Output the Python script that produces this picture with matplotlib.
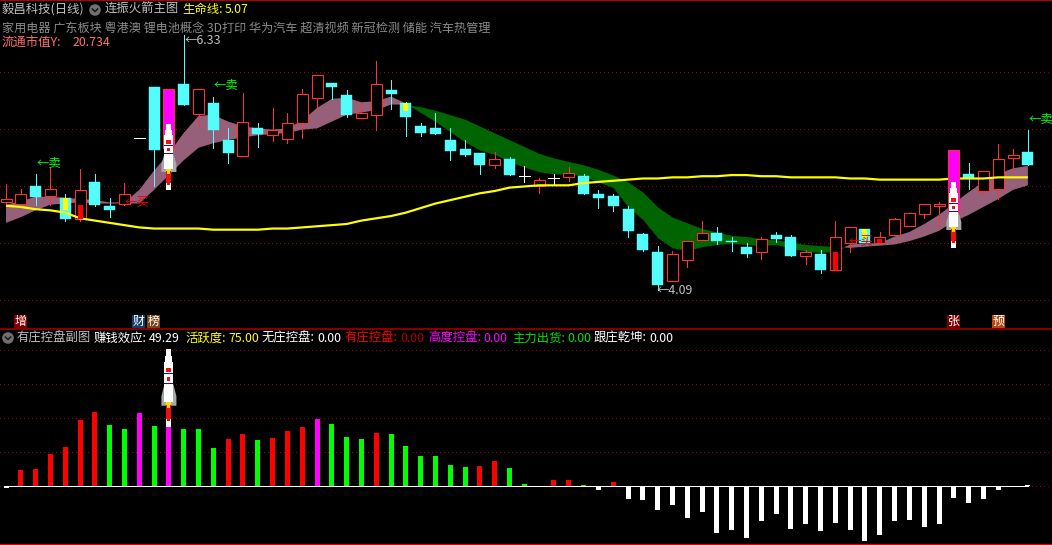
import matplotlib
matplotlib.use('Agg')
import matplotlib.pyplot as plt
from matplotlib.patches import Rectangle, Polygon, Circle

plt.rcParams['font.family'] = ['Noto Sans CJK SC', 'DejaVu Sans']

W, H = 1052, 545
# ---------------- data ----------------
opens = [4.86,4.85,5.00,4.92,4.90,4.71,5.04,4.83,4.85,5.43,5.87,5.34,5.90,5.64,5.73,5.41,5.27,5.51,5.45,5.42,
         5.56,5.78,5.91,5.80,5.60,5.63,5.85,5.73,5.53,5.51,5.41,5.33,5.29,5.19,5.24,5.09,5.00,5.07,5.08,5.09,
         4.93,4.92,4.80,4.58,4.42,4.17,4.35,4.53,4.59,4.52,4.47,4.42,4.57,4.56,4.39,4.41,4.27,4.50,4.63,4.50,
         4.57,4.65,4.76,4.83,4.77,5.11,4.96,4.98,5.25,5.30]
closes = [4.89,4.93,4.91,4.98,4.71,4.97,4.84,4.79,4.93,5.43,5.32,5.86,5.72,5.86,5.50,5.29,5.57,5.46,5.50,5.56,
          5.81,5.98,5.87,5.63,5.65,5.90,5.81,5.61,5.47,5.46,5.31,5.28,5.19,5.24,5.10,5.09,5.06,5.07,5.12,4.93,
          4.90,4.83,4.61,4.44,4.13,4.41,4.52,4.59,4.52,4.51,4.41,4.54,4.54,4.39,4.42,4.27,4.56,4.64,4.50,4.56,
          4.71,4.77,4.85,4.85,5.32,5.07,5.14,5.24,5.28,5.19]
highs = [5.02,4.98,5.11,5.16,4.93,5.15,5.11,4.90,5.03,5.43,5.87,5.86,6.33,5.86,5.79,5.51,5.82,5.56,5.69,5.65,
         5.86,5.98,5.91,5.85,5.73,6.10,5.94,5.74,5.56,5.65,5.51,5.41,5.29,5.30,5.26,5.18,5.07,5.11,5.17,5.11,
         4.97,4.93,4.83,4.59,4.48,4.43,4.52,4.70,4.64,4.56,4.50,4.56,4.60,4.57,4.44,4.44,4.70,4.64,4.63,4.60,
         4.72,4.77,4.85,4.86,5.32,5.21,5.14,5.37,5.33,5.50]
lows = [4.82,4.85,4.84,4.84,4.70,4.70,4.83,4.73,4.84,5.43,5.00,5.34,5.72,5.52,5.34,5.21,5.27,5.35,5.40,5.38,
        5.43,5.68,5.77,5.61,5.60,5.50,5.68,5.44,5.44,5.46,5.23,5.27,5.11,5.16,5.10,5.04,4.94,5.01,5.05,4.93,
        4.81,4.78,4.56,4.43,4.09,4.17,4.29,4.53,4.49,4.43,4.38,4.36,4.51,4.39,4.32,4.24,4.27,4.42,4.50,4.50,
        4.57,4.65,4.72,4.65,4.77,4.98,4.93,4.89,5.13,5.19]
fast_line = [4.84,4.87,4.91,4.91,4.90,4.89,4.88,4.86,4.86,4.97,5.14,5.29,5.47,5.62,5.63,5.57,5.53,5.51,5.50,5.51,
             5.58,5.69,5.77,5.78,5.74,5.75,5.79,5.73,5.65,5.57,5.48,5.39,5.32,5.28,5.22,5.17,5.13,5.11,5.11,5.09,
             5.04,4.99,4.82,4.71,4.55,4.46,4.44,4.47,4.49,4.50,4.49,4.48,4.49,4.46,4.43,4.42,4.43,4.49,4.50,4.50,
             4.56,4.60,4.67,4.75,4.85,4.95,5.04,5.11,5.16,5.18]
slow_line = [4.68,4.73,4.79,4.84,4.85,4.86,4.85,4.85,4.85,4.85,4.97,5.10,5.23,5.34,5.38,5.41,5.43,5.45,5.46,5.47,
             5.50,5.51,5.57,5.63,5.65,5.67,5.72,5.72,5.70,5.67,5.63,5.59,5.53,5.47,5.41,5.35,5.29,5.25,5.22,5.19,
             5.15,5.10,5.04,4.95,4.82,4.73,4.68,4.63,4.60,4.57,4.56,4.54,4.53,4.51,4.49,4.48,4.47,4.46,4.47,4.48,
             4.49,4.52,4.56,4.61,4.69,4.75,4.82,4.89,4.97,5.01]
life_line = [4.83,4.82,4.80,4.79,4.77,4.72,4.70,4.68,4.66,4.64,4.63,4.63,4.63,4.63,4.62,4.62,4.62,4.62,4.63,4.63,
             4.64,4.65,4.66,4.67,4.70,4.72,4.74,4.77,4.81,4.85,4.88,4.91,4.94,4.96,4.99,5.00,5.01,5.01,5.01,5.03,
             5.04,5.05,5.06,5.07,5.07,5.08,5.08,5.09,5.09,5.10,5.10,5.09,5.09,5.08,5.08,5.08,5.08,5.07,5.07,5.06,
             5.06,5.06,5.06,5.06,5.07,5.07,5.07,5.08,5.08,5.08]
yellow_marks = {4: (4.79, 4.90), 27: (5.66, 5.73), 58: (4.55, 4.63)}
red_marks = {5: (4.71, 4.84), 56: (4.27, 4.42), 59: (4.50, 4.54)}
magenta_candles = [11, 64]
price_grid = [6.01, 5.505, 5.00, 4.50, 4.00]

lower_vals = [-2,16,17,32,39,66,74,61,57,73,60,59,57,57,38,47,52,46,48,55,59,67,62,49,47,53,52,40,30,30,
              21,19,20,25,18,2,0,6,6,1,-4,4,-13,-14,-24,-19,-32,-26,-47,-44,-52,-35,-28,-43,-38,-45,-37,-44,-55,-49,
              -35,-34,-41,-38,-12,-17,-13,-4,0,1]
lower_kind = list('wrrrrrrggmgmggg'+'rrgrrrmggg'+'rgggggg'+'rrg'+'g'+'wrrgwr'+'w'*28+'wr')[:70]
lower_grid = [34, 68, 102, 136]

# ---------------- colours ----------------
RED, CYAN, MAUVE, GREEN = '#FF3232', '#54FCFC', '#96607A', '#006400'
GRID = '#A00000'
KIND = {'r': '#FF0000', 'g': '#00FF00', 'm': '#FF00FF', 'w': '#FFFFFF'}

fig = plt.figure(figsize=(W/100, H/100), dpi=100, facecolor='black')
PX = 0.72
x0, dx = 6.0, 14.81
xlim = (-x0/dx, (W-x0)/dx)
n = len(closes)
idx = list(range(n))

# ---------------- main panel ----------------
ax = fig.add_axes([0, (H-329)/H, 1, 329/H], facecolor='black')
ax.set_xlim(xlim)
ax.set_ylim(3.747, 6.639)
for g in price_grid:
    ax.axhline(g, color=GRID, lw=PX, ls=(0, (1, 3)), zorder=0, antialiased=False)
ax.fill_between(idx, fast_line, slow_line, where=[f >= s for f, s in zip(fast_line, slow_line)],
                interpolate=True, color=MAUVE, lw=0, zorder=1)
ax.fill_between(idx, fast_line, slow_line, where=[f <= s for f, s in zip(fast_line, slow_line)],
                interpolate=True, color=GREEN, lw=0, zorder=1)
bw = 11/dx
for i in idx:
    o, c, hi, lo = opens[i], closes[i], highs[i], lows[i]
    if c > o:
        col = RED
    elif c < o:
        col = CYAN
    else:
        col = '#FFFFFF'
    ax.plot([i, i], [lo, hi], color=col, lw=0.7, zorder=2, antialiased=False, solid_capstyle='butt')
    if c == o:
        ax.plot([i-bw/2, i+bw/2], [c, c], color=col, lw=0.7, zorder=2, antialiased=False, solid_capstyle='butt')
    elif c > o:
        ax.bar(i, c-o, bw, o, facecolor='black', edgecolor=col, lw=0.8, zorder=2)
    else:
        ax.bar(i, o-c, bw, c, facecolor=col, edgecolor=col, lw=0.3, zorder=2)
ax.plot(idx, life_line, color='#FFFF00', lw=PX*2.2, zorder=3, solid_capstyle='butt')
for i in magenta_candles:
    ax.bar(i, closes[i]-opens[i], bw, opens[i], facecolor='#FF00FF', edgecolor=RED, lw=0.7, zorder=4)
for i, (a, b) in yellow_marks.items():
    ax.bar(i, b-a, 5/dx, a, color='#FFFF00', lw=0, zorder=4)
for i, (a, b) in red_marks.items():
    ax.bar(i, b-a, 5/dx, a, color='#FF0000', lw=0, zorder=4)
ax.set_xticks([]); ax.set_yticks([])
for s in ['left', 'right', 'bottom']:
    ax.spines[s].set_visible(False)
ax.spines['top'].set_color('#B00000'); ax.spines['top'].set_linewidth(PX*2)

# ---------------- lower panel ----------------
ax2 = fig.add_axes([0, 0, 1, (H-329)/H], facecolor='black')
ax2.set_xlim(xlim)
ax2.set_ylim(-58.7, 157.3)
for g in lower_grid:
    ax2.axhline(g, color=GRID, lw=PX, ls=(0, (1, 3)), zorder=0, antialiased=False)
ax2.axhline(0, color=GRID, lw=PX, ls=(0, (1, 3)), zorder=0, antialiased=False)
ax2.bar(idx, lower_vals, 5/dx, color=[KIND[k] for k in lower_kind], lw=0, zorder=2)
ax2.plot([-0.1, n-1], [0, 0], color='white', lw=0.7, zorder=3, antialiased=False, solid_capstyle='butt')
ax2.set_xticks([]); ax2.set_yticks([])
for s in ['left', 'right']:
    ax2.spines[s].set_visible(False)
ax2.spines['top'].set_color('#B00000'); ax2.spines['top'].set_linewidth(PX*1.5)
ax2.spines['bottom'].set_color('#E00000'); ax2.spines['bottom'].set_linewidth(PX*2)

# ---------------- overlay: text, tags, rockets ----------------
ov = fig.add_axes([0, 0, 1, 1], facecolor='none', zorder=10)
ov.set_xlim(0, W); ov.set_ylim(H, 0); ov.axis('off')
FS = 8.9

def T(x, y, s, color, size=FS, ha='left'):
    ov.text(x, y, s, color=color, fontsize=size, ha=ha, va='center')

def icon(x, y):
    ov.add_patch(Circle((x, y), 5.8, color='#707070', lw=0))
    ov.plot([x-2.6, x, x+2.6], [y-1, y+1.6, y-1], color='#1a1a1a', lw=1.1)

GREY = '#C0C0C0'
T(2, 9.5, '毅昌科技(日线)', GREY)
icon(95, 10)
T(105, 9.5, '连振火箭主图', GREY)
T(182, 9.5, '生命线:', '#FFFF00'); T(225, 9.5, '5.07', '#FFFF00')
T(2, 29, '家用电器 广东板块 粤港澳 锂电池概念 3D打印 华为汽车 超清视频 新冠检测 储能 汽车热管理', '#8C8C8C', size=8.72)
T(2, 43, '流通市值Y:', '#FF7070'); T(73, 43, '20.734', '#FF7070')

icon(8, 338)
T(17, 338, '有庄控盘副图', GREY)
T(94, 338, '赚钱效应:', 'white'); T(149, 338, '49.29', 'white')
T(185, 338, '活跃度:', '#FFFF00'); T(228, 338, '75.00', '#FFFF00')
T(262, 338, '无庄控盘:', 'white'); T(317, 338, '0.00', 'white')
T(345, 338, '有庄控盘:', '#FF0000'); T(400, 338, '0.00', '#B00000')
T(428, 338, '高度控盘:', '#FF00FF'); T(483, 338, '0.00', '#FF00FF')
T(512, 338, '主力出货:', '#00E000'); T(567, 338, '0.00', '#00E000')
T(594, 338, '跟庄乾坤:', 'white'); T(649, 338, '0.00', 'white')

for x, s, bg in [(14, '增', '#800000'), (132, '财', '#143C6E'), (147, '榜', '#7A4210'),
                 (947, '张', '#800000'), (992, '预', '#B8480F')]:
    ov.add_patch(Rectangle((x, 315), 13, 13, color=bg, lw=0))
    T(x+6.5, 321, s, 'white', size=8.6, ha='center')

for x, y, s, c in [(37, 163, '←卖', '#00FF00'), (214, 85, '←卖', '#00FF00'), (1029, 119, '←卖', '#00FF00'),
                   (125, 202, '←买', '#E00000'), (849, 241, '←买', '#E00000')]:
    T(x, y, s, c)
T(185, 40.5, '←6.33', GREY); T(657, 291, '←4.09', GREY)


def rocket(cx, top, k=1.0):
    def Y(v):
        return top + v*k
    def box(x1, x2, y1, y2, c):
        ov.add_patch(Rectangle((cx+x1, Y(y1)), x2-x1, Y(y2)-Y(y1), color=c, lw=0))
    ov.add_patch(Polygon([(cx-4.5, Y(30)), (cx-7.5, Y(40)), (cx-7.5, Y(48)), (cx+7.5, Y(48)),
                          (cx+7.5, Y(40)), (cx+4.5, Y(30))], color='#A8A8A8', lw=0))
    box(-2.5, 2.5, 0, 6, 'white'); box(-3.5, 3.5, 6, 11, 'white'); box(-4.5, 4.5, 11, 44.5, 'white')
    box(-2.5, 2.5, 16, 19.5, '#F01010'); box(-4.5, 4.5, 20.5, 21.5, '#1010C0')
    box(-1.5, 1.5, 24, 27, '#F01010'); box(-4.5, 4.5, 29, 30, '#1010C0')
    box(-2.5, 2.5, 59, 66, 'white')
    box(-2.5, 2.5, 44.5, 59, '#F01010'); box(-1.5, 1.5, 59, 61, '#F01010')
    box(-2.5, 2.5, 44.5, 47, '#FFE000'); box(-1.5, 1.5, 47, 50, '#FFE000')


def px_x(i):
    return x0 + dx*i

rocket(px_x(11), 124)
rocket(px_x(64), 182)
rocket(px_x(11), 349, k=78/66)

fig.savefig('out.png', dpi=100, facecolor='black')
